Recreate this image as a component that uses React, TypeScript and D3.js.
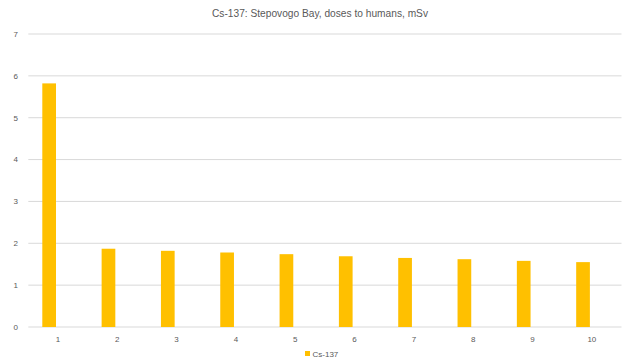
import React from "react";
import * as d3 from "d3";

const categories = ["1", "2", "3", "4", "5", "6", "7", "8", "9", "10"];
const seriesNames = ["Cs-137", ""];
const cs137Values = [5.82, 1.87, 1.82, 1.78, 1.74, 1.69, 1.65, 1.62, 1.58, 1.55];
const yTicks = [0, 1, 2, 3, 4, 5, 6, 7];
const title = "Cs-137: Stepovogo Bay, doses to humans, mSv";

const W = 624;
const H = 362;
const plot = { left: 28.3, right: 621.5, top: 34, bottom: 327 };

export default function App() {
  const x0 = d3.scaleBand<string>().domain(categories).range([plot.left, plot.right]).padding(0);
  const bw = x0.bandwidth();
  const x1 = d3.scaleBand<string>().domain(seriesNames).range([bw * 0.236, bw * 0.698]).padding(0);
  const y = d3.scaleLinear().domain([0, 7]).range([plot.bottom, plot.top]);
  const grey = "#595959";
  const font = "'Liberation Sans', Arial, sans-serif";

  return (
    <svg width={W} height={H} style={{ position: "absolute", left: 0, top: 0, background: "#fff" }}>
      <rect x={0} y={0} width={W} height={H} fill="#fff" />
      <text x={W / 2 + 8} y={17} textAnchor="middle" fontFamily={font} fontSize={10.5} fill={grey} textLength={216} lengthAdjust="spacingAndGlyphs">
        {title}
      </text>
      {yTicks.map((t) => (
        <g key={t}>
          <line x1={plot.left} x2={plot.right} y1={y(t)} y2={y(t)} stroke="#d9d9d9" strokeWidth={1} />
          <text x={18} y={y(t) + 2.8} textAnchor="end" fontFamily={font} fontSize={8} fill={grey}>
            {t}
          </text>
        </g>
      ))}
      {categories.map((c, i) => (
        <g key={c}>
          <rect
            x={(x0(c) as number) + (x1("Cs-137") as number)}
            y={y(cs137Values[i])}
            width={x1.bandwidth()}
            height={y(0) - y(cs137Values[i])}
            fill="#FFC000"
          />
          <text x={(x0(c) as number) + bw / 2} y={342} textAnchor="middle" fontFamily={font} fontSize={8} fill={grey}>
            {c}
          </text>
        </g>
      ))}
      <rect x={305} y={351} width={5} height={5} fill="#FFC000" />
      <text x={312.5} y={356.5} fontFamily={font} fontSize={8} fill={grey}>
        Cs-137
      </text>
    </svg>
  );
}
